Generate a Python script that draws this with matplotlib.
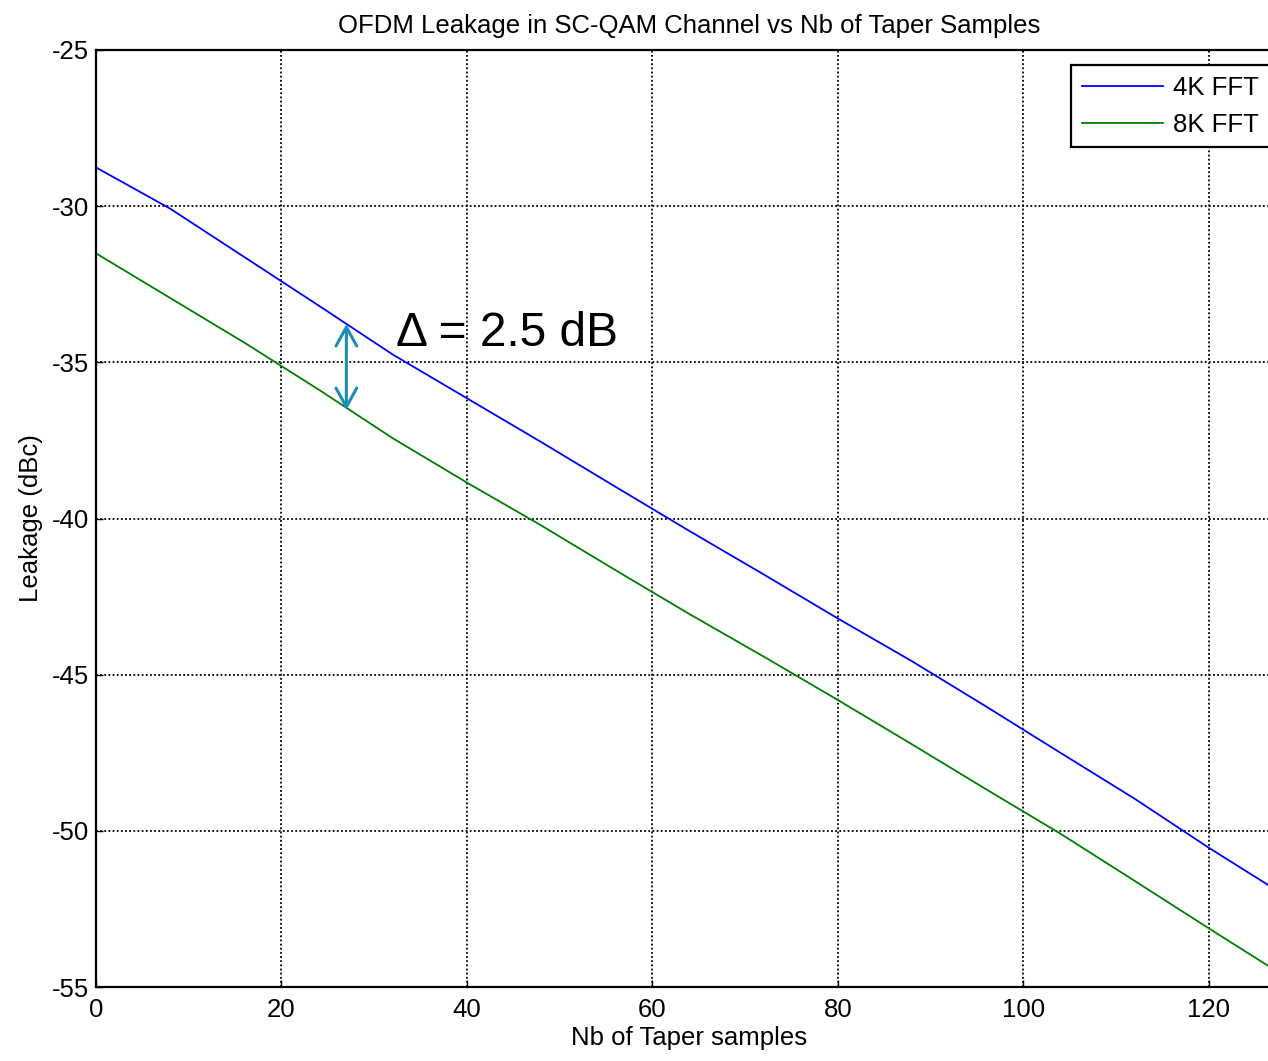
import matplotlib
matplotlib.use("Agg")
import matplotlib.pyplot as plt

plt.rcParams["font.family"] = ["Liberation Sans", "DejaVu Sans"]
plt.rcParams["axes.unicode_minus"] = False

# Number of taper samples
taper_samples = [0, 8, 16, 24, 32, 40, 48, 56, 64, 72, 80, 88, 96, 104, 112, 120, 128]
# Leakage (dBc) for each FFT size
leak_4k = [-28.76, -30.08, -31.63, -33.18, -34.75, -36.15, -37.55, -38.98, -40.40,
           -41.79, -43.20, -44.57, -46.02, -47.50, -48.97, -50.54, -52.03]
leak_8k = [-31.51, -32.94, -34.37, -35.87, -37.43, -38.85, -40.22, -41.65, -43.06,
           -44.42, -45.81, -47.23, -48.67, -50.09, -51.60, -53.12, -54.62]
series_labels = ["4K FFT", "8K FFT"]

x_ticks = [0, 20, 40, 60, 80, 100, 120]
y_ticks = [-55, -50, -45, -40, -35, -30, -25]

# Delta annotation between the two curves
delta_x = 27
delta_top = -33.77
delta_bottom = -36.53
delta_text = "\u0394 = 2.5 dB"

fig = plt.figure(figsize=(12.68, 10.61), dpi=100)
ax = fig.add_axes([0.0757, 0.0697, 1.0118 - 0.0757, 0.9529 - 0.0697])

ax.plot(taper_samples, leak_4k, color="#0000FF", lw=1.3, label=series_labels[0])
ax.plot(taper_samples, leak_8k, color="#008000", lw=1.3, label=series_labels[1])

ax.set_xlim(0, 128)
ax.set_ylim(-55, -25)
ax.set_xticks(x_ticks)
ax.set_yticks(y_ticks)
ax.tick_params(axis="both", direction="in", length=5, width=1, labelsize=18.5)
ax.tick_params(axis="x", pad=8)
ax.tick_params(axis="y", pad=5)
for sp in ax.spines.values():
    sp.set_linewidth(1.6)

ax.grid(True, color="black", linestyle=(0, (1, 1.3)), linewidth=1.3)
ax.set_axisbelow(True)

ax.set_title("OFDM Leakage in SC-QAM Channel vs Nb of Taper Samples", fontsize=18.5, pad=12)
ax.set_xlabel("Nb of Taper samples", fontsize=18.5, labelpad=3)
ax.set_ylabel("Leakage (dBc)", fontsize=18.5, labelpad=6)

leg = ax.legend(loc="upper left", bbox_to_anchor=(0.8214, 0.984), fontsize=18.5,
                frameon=True, fancybox=False, edgecolor="black", framealpha=1,
                handlelength=3.15, handletextpad=0.4, borderpad=0.42,
                labelspacing=0.5, borderaxespad=0)
leg.get_frame().set_linewidth(1.6)

ax.annotate("", xy=(delta_x, delta_top), xytext=(delta_x, delta_bottom),
            arrowprops=dict(arrowstyle="<->,head_length=0.4,head_width=0.22",
                            mutation_scale=34, color="#1E8DB3", lw=2.2,
                            shrinkA=0, shrinkB=0))
ax.text(32.4, -34.47, delta_text, fontsize=34.5, ha="left", va="baseline")

fig.savefig("out.png", dpi=100)
